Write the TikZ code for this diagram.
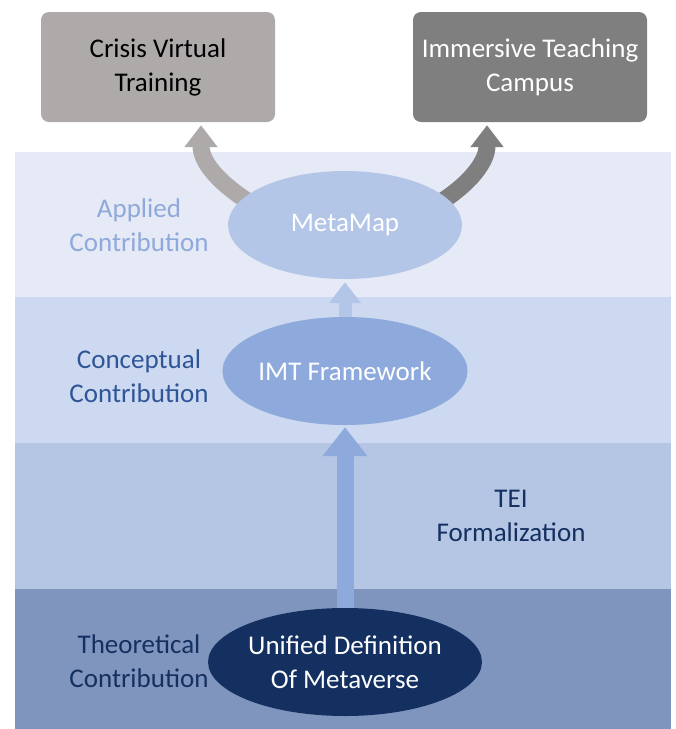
\documentclass[tikz,border=0pt]{standalone}
\usepackage{fontspec}
\setmainfont{Carlito}
\usetikzlibrary{arrows.meta,shapes.geometric,positioning}
\definecolor{bandA}{RGB}{230,233,246}
\definecolor{bandC}{RGB}{204,217,240}
\definecolor{bandT}{RGB}{181,197,228}
\definecolor{bandO}{RGB}{127,149,190}
\definecolor{boxgrey}{RGB}{174,170,170}
\definecolor{boxdark}{RGB}{127,127,127}
\definecolor{metafill}{RGB}{180,198,231}
\definecolor{imtfill}{RGB}{142,169,219}
\definecolor{navy}{RGB}{20,48,96}
\definecolor{midblue}{RGB}{47,85,151}
\pgfdeclarelayer{bands}\pgfdeclarelayer{links}
\pgfsetlayers{bands,links,main}
\tikzset{
  box/.style={rounded corners=8pt, minimum width=234pt, minimum height=110pt, align=center, inner sep=0pt},
  blob/.style={ellipse, minimum width=234pt, minimum height=108pt, align=center, inner sep=0pt, text=white},
  lab/.style={align=center, inner sep=0pt},
  curvy/.style={line width=17pt, -{Triangle[width=32pt,length=22pt]}},
  uplink/.style={line width=17pt, -{Triangle[width=43pt,length=29pt]}, shorten >=2pt}
}
\begin{document}
\begin{tikzpicture}[x=1pt, y=1pt, font=\fontsize{27}{34}\selectfont, line join=round]
\useasboundingbox (0,0) rectangle (676,-729);
\begin{pgfonlayer}{bands}
\foreach \ytop/\ybot/\col in {152/297/bandA, 297/443/bandC, 443/589/bandT, 589/729/bandO}{
  \fill[\col] (15,-\ytop) rectangle (671,-\ybot);
}
\end{pgfonlayer}
\node[box, fill=boxgrey] (crisis) at (158,-67) {Crisis Virtual\\Training};
\node[box, fill=boxdark, text=white] (campus) at (530,-67) {Immersive Teaching\\Campus};
\node[blob, fill=metafill] (metamap) at (345,-225) {MetaMap};
\node[blob, fill=imtfill] (imt) at (345,-371) {IMT Framework};
\node[blob, fill=navy] (unified) at (345,-662) {Unified Definition\\Of Metaverse};
\node[lab, text=imtfill] (applied) at (139,-225) {Applied\\Contribution};
\node[lab, text=midblue] (conceptual) at (139,-376) {Conceptual\\Contribution};
\node[lab, text=navy] (tei) at (511,-516) {TEI\\Formalization};
\node[lab, text=navy] (theoretical) at (139,-661) {Theoretical\\Contribution};
\begin{pgfonlayer}{links}
\draw[curvy, draw=boxgrey] ([xshift=15pt,yshift=-10pt]metamap.165) to[out=150, in=-90] ([xshift=43pt,yshift=-3pt]crisis.south);
\draw[curvy, draw=boxdark] ([xshift=-15pt,yshift=-10pt]metamap.15) to[out=30, in=-90] ([xshift=-43pt,yshift=-3pt]campus.south);
\end{pgfonlayer}
\draw[uplink, draw=imtfill] (unified) -- (imt);
\draw[line width=13pt, draw=metafill, -{Triangle[width=31pt,length=21pt]}, shorten >=3pt] (imt) -- (metamap);
\end{tikzpicture}
\end{document}
